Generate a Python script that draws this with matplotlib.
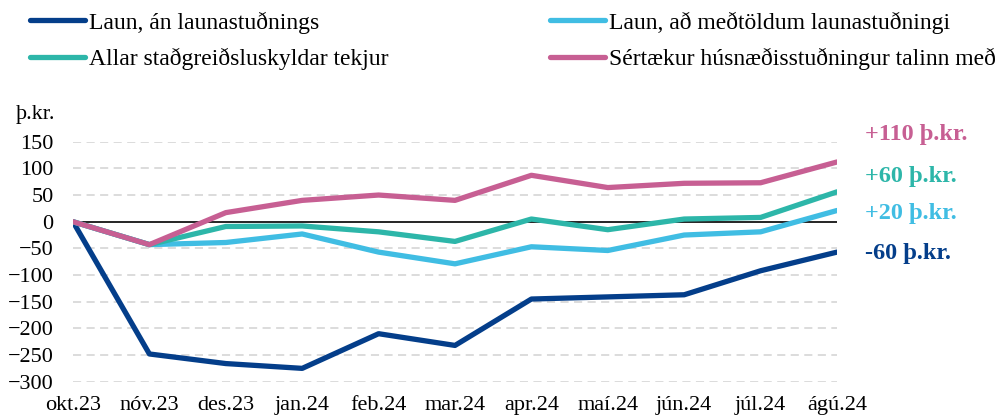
import matplotlib
matplotlib.use('Agg')
import matplotlib.pyplot as plt

plt.rcParams['font.family'] = ['Liberation Serif', 'DejaVu Serif']

months = ['okt.23', 'nóv.23', 'des.23', 'jan.24', 'feb.24', 'mar.24',
          'apr.24', 'maí.24', 'jún.24', 'júl.24', 'ágú.24']

laun_an = [0, -248, -266, -275, -210, -232, -145, -141, -137, -92, -57]
laun_med = [0, -43, -39, -23, -57, -79, -47, -54, -25, -19, 21]
allar = [0, -43, -9, -8, -19, -37, 5, -15, 5, 8, 56]
sertaekur = [0, -43, 17, 40, 50, 40, 87, 64, 72, 73, 112]

labels = ['Laun, án launastuðnings', 'Laun, að meðtöldum launastuðningi',
          'Allar staðgreiðsluskyldar tekjur', 'Sértækur húsnæðisstuðningur talinn með']
colors = ['#043e8a', '#40bde3', '#2db6a9', '#c75f93']
end_labels = ['-60 þ.kr.', '+20 þ.kr.', '+60 þ.kr.', '+110 þ.kr.']
end_y = [-59, 16, 84, 164]

fig = plt.figure(figsize=(10.02, 4.16), dpi=100)
ax = fig.add_axes([73 / 1002, 1 - 381.7 / 416, 764 / 1002, 240 / 416])

x = list(range(len(months)))
series = [laun_an, laun_med, allar, sertaekur]
lines = []
for s, c, lab in zip(series, colors, labels):
    l, = ax.plot(x, s, color=c, linewidth=3.8, label=lab, solid_capstyle='round', zorder=3)
    lines.append(l)

ax.axhline(0, color='black', linewidth=1.2, zorder=2)
for v in range(-300, 151, 50):
    if v != 0:
        ax.axhline(v, color='#d9d9d9', linewidth=1.3, linestyle=(0, (4.5, 3)), zorder=1)

ax.set_xlim(0, 10)
ax.set_ylim(-300, 150)
ax.set_yticks(range(-300, 151, 50))
ax.set_xticks(x)
ax.set_xticklabels(months)
ax.tick_params(axis='both', length=0, labelsize=16)
ax.tick_params(axis='y', pad=14)
ax.tick_params(axis='x', pad=10)
for sp in ax.spines.values():
    sp.set_visible(False)

for t, y, c in zip(end_labels, end_y, colors):
    ax.text(10.37, y, t, color=c, fontsize=17.5, fontweight='bold', va='center', ha='left', clip_on=False)

fig.text(16 / 1002, 1 - 115 / 416, 'þ.kr.', fontsize=16, va='center', ha='left')

# legend order: row1 = laun_an, laun_med ; row2 = allar, sertaekur
order = [0, 2, 1, 3]
fig.legend([lines[i] for i in order], [labels[i] for i in order], ncol=2,
           loc='upper left', bbox_to_anchor=(21 / 1002, 1 - 2 / 416), frameon=False,
           fontsize=17, handlelength=2.33, handletextpad=0.17, columnspacing=6.8,
           labelspacing=0.6, borderaxespad=0.0)

plt.savefig('out.png', dpi=100)
